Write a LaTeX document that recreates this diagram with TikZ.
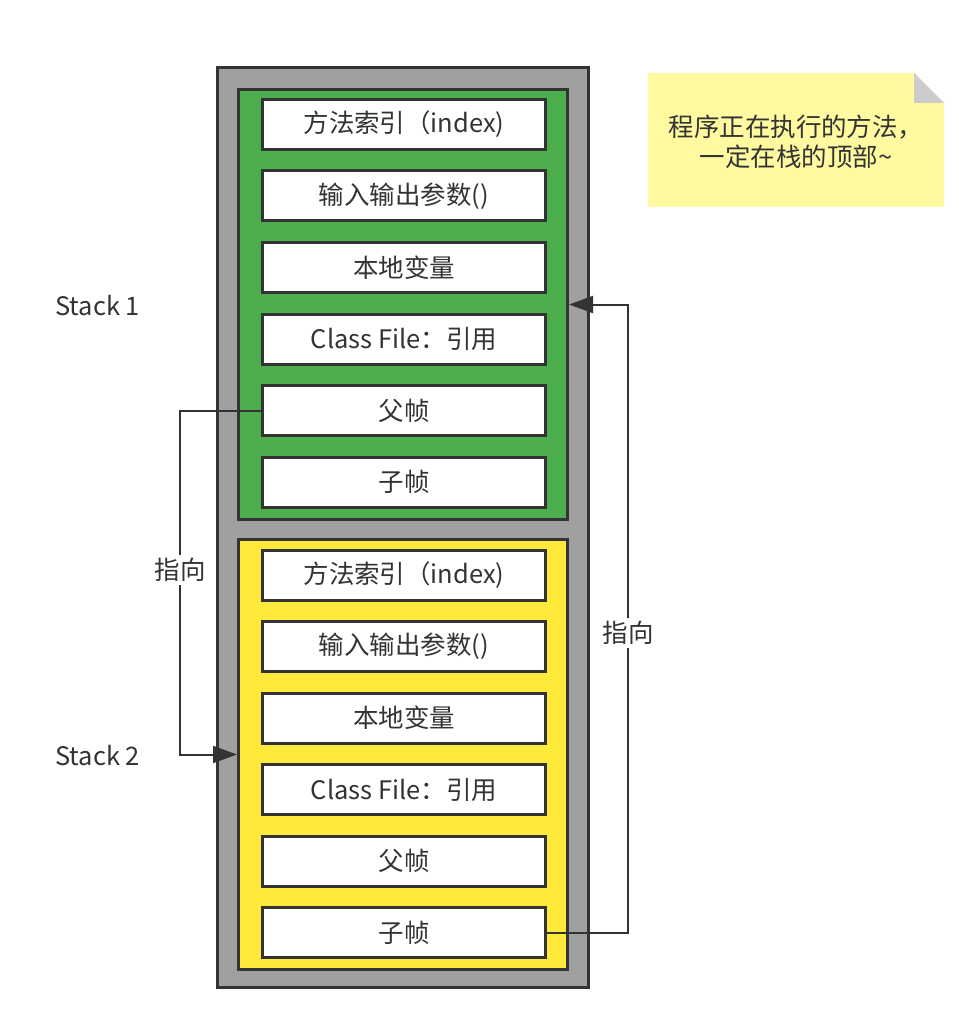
\documentclass[tikz,border=0pt]{standalone}
\usepackage{fontspec}
\setmainfont{Noto Sans CJK SC}
\usepackage{xcolor}
\definecolor{LineGray}{RGB}{51,51,51}
\definecolor{StackGray}{RGB}{160,160,160}
\definecolor{FrameGreen}{RGB}{77,174,77}
\definecolor{FrameYellow}{RGB}{255,233,59}
\definecolor{NoteYellow}{RGB}{255,250,160}
\definecolor{FoldGray}{RGB}{204,204,204}
\usetikzlibrary{positioning,arrows.meta}

\begin{document}
\begin{tikzpicture}[
    font=\fontsize{14.5}{17}\selectfont, text=LineGray,
    slot/.style={rectangle, draw=LineGray, fill=white, line width=0.06cm,
                 minimum width=5.66cm, minimum height=1.0cm, inner sep=0pt},
    frame/.style={rectangle, draw=LineGray, line width=0.06cm,
                  minimum width=6.58cm, minimum height=8.6cm},
    arrow/.style={-{Triangle[length=4.8mm, width=3.4mm]}, draw=LineGray, line width=0.04cm},
    tag/.style={fill=white, inner sep=2pt}
]
    \useasboundingbox (0,0) rectangle (19.18,-20.24);

    % the stack and its two frames
    \node[rectangle, draw=LineGray, fill=StackGray, line width=0.06cm,
          minimum width=7.42cm, minimum height=18.4cm] (jvmstack) at (8.06,-10.55) {};
    \node[frame, fill=FrameGreen] (frame1) at (8.06,-6.09) {};
    \node[frame, fill=FrameYellow] (frame2) at (8.06,-15.09) {};

    % Stack 1
    \node[slot] (a1) at (8.08,-2.49) {方法索引（index)};
    \node[slot, below=0.37cm of a1] (a2) {输入输出参数()};
    \node[slot, below=0.37cm of a2] (a3) {本地变量};
    \node[slot, below=0.37cm of a3] (a4) {Class File：引用};
    \node[slot, below=0.37cm of a4] (a5) {父帧};
    \node[slot, below=0.37cm of a5] (a6) {子帧};

    % Stack 2
    \node[slot] (b1) at (8.08,-11.5) {方法索引（index)};
    \node[slot, below=0.37cm of b1] (b2) {输入输出参数()};
    \node[slot, below=0.37cm of b2] (b3) {本地变量};
    \node[slot, below=0.37cm of b3] (b4) {Class File：引用};
    \node[slot, below=0.37cm of b4] (b5) {父帧};
    \node[slot, below=0.37cm of b5] (b6) {子帧};

    \node[anchor=west] (name1) at (0.98,-6.12) {Stack 1};
    \node[anchor=west] (name2) at (0.98,-15.12) {Stack 2};

    % links between frames
    \draw[arrow] (a5.west) -- ++(-1.62,0) |- (frame2.west);
    \draw[arrow] (b6.east) -- ++(1.62,0) |- (frame1.east);
    \node[tag] (tag1) at (3.6,-11.4) {指向};
    \node[tag] (tag2) at (12.56,-12.66) {指向};

    % note
    \fill[NoteYellow] (12.96,-1.46) -- (18.28,-1.46) -- (18.88,-2.06) -- (18.88,-4.14) -- (12.96,-4.14) -- cycle;
    \fill[FoldGray] (18.28,-1.46) -- (18.28,-2.06) -- (18.88,-2.06) -- cycle;
    \node[align=center] (note) at (15.92,-2.84) {程序正在执行的方法，\\一定在栈的顶部\textasciitilde};
\end{tikzpicture}
\end{document}
